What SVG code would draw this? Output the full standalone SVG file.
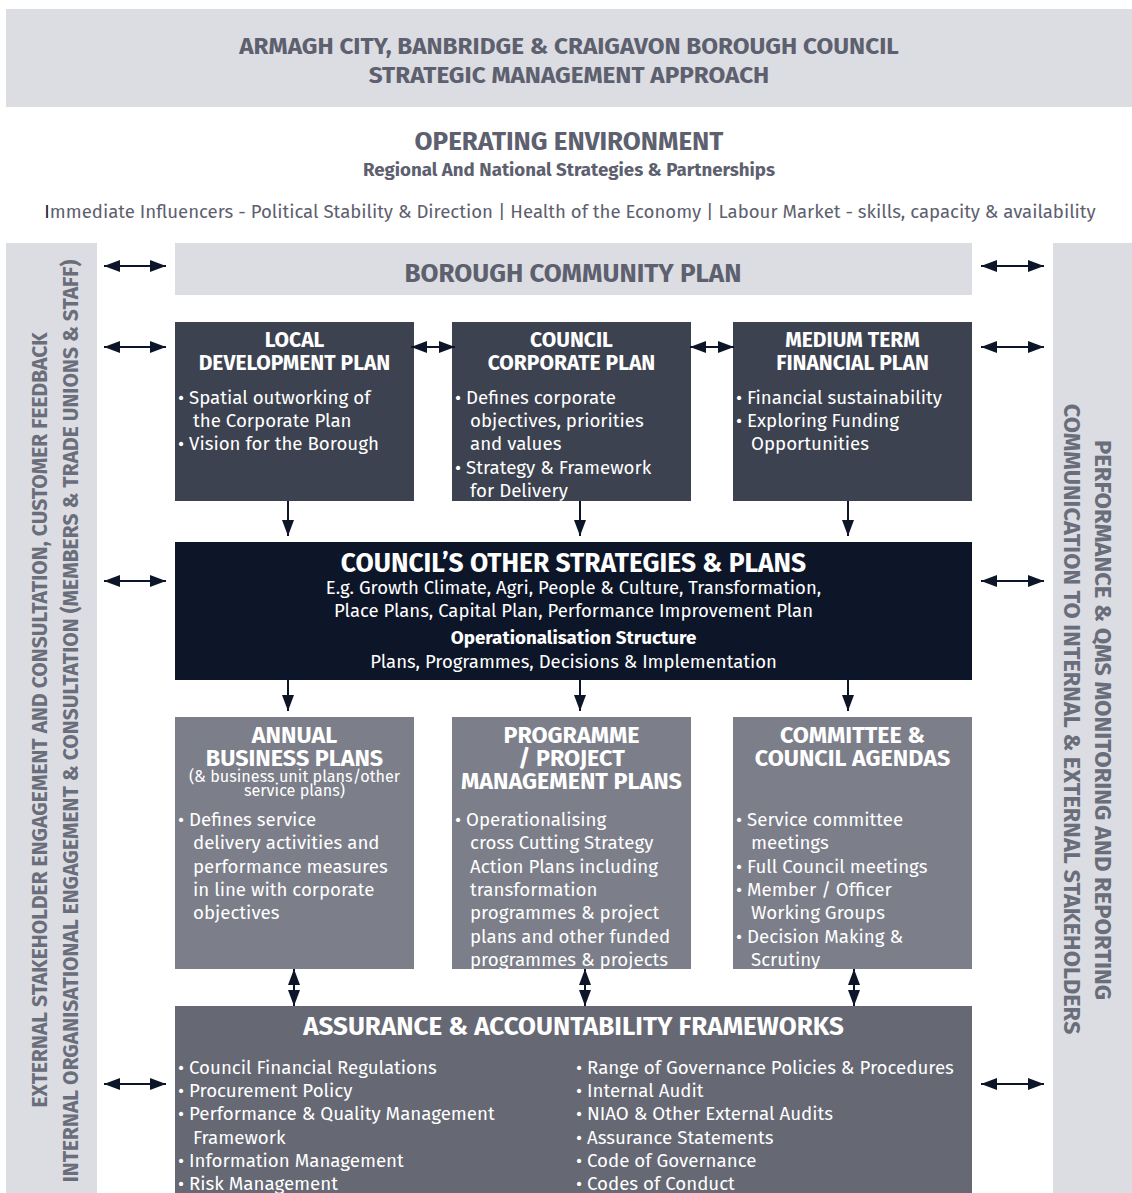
<svg xmlns="http://www.w3.org/2000/svg" width="1132" height="1193" viewBox="0 0 1132 1193">
  <style>
    text { font-family: "Fira Sans", "Noto Sans", "Open Sans", sans-serif; }
    .band { fill: #dcdde2; }
    .gt { fill: #5d606e; font-weight: bold; }
    .side { fill: #6a6d7a; font-weight: bold; }
    .h { fill: #ffffff; font-weight: bold; font-size: 21px; text-anchor: middle; }
    .h4 { fill: #ffffff; font-weight: bold; font-size: 23.3px; text-anchor: middle; }
    .b { fill: #ffffff; font-size: 18.7px; }
    .c { fill: #ffffff; font-size: 18.5px; text-anchor: middle; }
    .sub { fill: #ffffff; font-size: 16.2px; text-anchor: middle; }
    .dark { fill: #3d4250; }
    .navy { fill: #0d1628; }
    .mid { fill: #7c7e89; }
    .asr { fill: #666874; }
    .conn line { stroke: #0d1628; stroke-width: 2; }
  </style>
  <defs>
    <marker id="ah" viewBox="0 0 16 12" refX="16" refY="6" markerWidth="16" markerHeight="12" markerUnits="userSpaceOnUse" orient="auto-start-reverse">
      <path d="M0,0 L16,6 L0,12 z" fill="#0d1628"/>
    </marker>
    <clipPath id="clipProg"><rect x="452" y="717" width="239" height="252"/></clipPath>
    <clipPath id="clipComm"><rect x="733" y="717" width="239" height="252"/></clipPath>
  </defs>
  <rect width="1132" height="1193" fill="#ffffff"/>

  <!-- heading band -->
  <g id="heading">
    <rect class="band" x="6" y="9" width="1126" height="98"/>
    <text class="gt" x="569" y="54" font-size="24.3" text-anchor="middle">ARMAGH CITY, BANBRIDGE &amp; CRAIGAVON BOROUGH COUNCIL</text>
    <text class="gt" x="569" y="83" font-size="24.3" text-anchor="middle">STRATEGIC MANAGEMENT APPROACH</text>
  </g>

  <g id="environment">
    <text class="gt" x="569" y="150" font-size="26" text-anchor="middle">OPERATING ENVIRONMENT</text>
    <text class="gt" x="569" y="176" font-size="18.7" text-anchor="middle">Regional And National Strategies &amp; Partnerships</text>
    <text x="570" y="218" font-size="18.6" fill="#5d606e" text-anchor="middle"><tspan fill="#1e2433">I</tspan>mmediate Influencers - Political Stability &amp; Direction | Health of the Economy | Labour Market - skills, capacity &amp; availability</text>
  </g>

  <!-- side panels -->
  <g id="left-panel">
    <rect class="band" x="6" y="243" width="91" height="950"/>
    <text class="side" font-size="21" transform="translate(47,720) rotate(-90)" text-anchor="middle">EXTERNAL STAKEHOLDER ENGAGEMENT AND CONSULTATION, CUSTOMER FEEDBACK</text>
    <text class="side" font-size="21" transform="translate(78,721) rotate(-90)" text-anchor="middle">INTERNAL ORGANISATIONAL ENGAGEMENT &amp; CONSULTATION (MEMBERS &amp; TRADE UNIONS &amp; STAFF)</text>
  </g>
  <g id="right-panel">
    <rect class="band" x="1053" y="243" width="79" height="950"/>
    <text class="side" font-size="23.8" transform="translate(1095,720) rotate(90)" text-anchor="middle">PERFORMANCE &amp; QMS MONITORING AND REPORTING</text>
    <text class="side" font-size="23.5" transform="translate(1064,719) rotate(90)" text-anchor="middle">COMMUNICATION TO INTERNAL &amp; EXTERNAL STAKEHOLDERS</text>
  </g>

  <g id="community-plan">
    <rect class="band" x="175" y="243" width="797" height="52"/>
    <text class="gt" x="573" y="282" font-size="26" text-anchor="middle">BOROUGH COMMUNITY PLAN</text>
  </g>

  <g id="local-development-plan">
    <rect class="dark" x="175" y="322" width="239" height="179"/>
    <text class="h" x="294.5" y="347">LOCAL</text>
    <text class="h" x="294.5" y="370">DEVELOPMENT PLAN</text>
    <text class="b" x="178" y="404">• Spatial outworking of</text>
    <text class="b" x="193" y="427">the Corporate Plan</text>
    <text class="b" x="178" y="450">• Vision for the Borough</text>
  </g>

  <g id="corporate-plan">
    <rect class="dark" x="452" y="322" width="239" height="179"/>
    <text class="h" x="571.5" y="347">COUNCIL</text>
    <text class="h" x="571.5" y="370">CORPORATE PLAN</text>
    <text class="b" x="455" y="404">• Defines corporate</text>
    <text class="b" x="470" y="427">objectives, priorities</text>
    <text class="b" x="470" y="450">and values</text>
    <text class="b" x="455" y="474">• Strategy &amp; Framework</text>
    <text class="b" x="470" y="497">for Delivery</text>
  </g>

  <g id="financial-plan">
    <rect class="dark" x="733" y="322" width="239" height="179"/>
    <text class="h" x="852.5" y="347">MEDIUM TERM</text>
    <text class="h" x="852.5" y="370">FINANCIAL PLAN</text>
    <text class="b" x="736" y="404">• Financial sustainability</text>
    <text class="b" x="736" y="427">• Exploring Funding</text>
    <text class="b" x="751" y="450">Opportunities</text>
  </g>

  <g id="other-strategies">
    <rect class="navy" x="175" y="542" width="797" height="138"/>
    <text x="573.5" y="572" fill="#ffffff" font-weight="bold" font-size="26.4" text-anchor="middle">COUNCIL’S OTHER STRATEGIES &amp; PLANS</text>
    <text class="c" x="573.5" y="594">E.g. Growth Climate, Agri, People &amp; Culture, Transformation,</text>
    <text class="c" x="573.5" y="617">Place Plans, Capital Plan, Performance Improvement Plan</text>
    <text x="573.5" y="644" fill="#ffffff" font-weight="bold" font-size="18.8" text-anchor="middle">Operationalisation Structure</text>
    <text class="c" x="573.5" y="668">Plans, Programmes, Decisions &amp; Implementation</text>
  </g>

  <g id="business-plans">
    <rect class="mid" x="175" y="717" width="239" height="252"/>
    <text class="h4" x="294.5" y="743">ANNUAL</text>
    <text class="h4" x="294.5" y="766">BUSINESS PLANS</text>
    <text class="sub" x="294.5" y="782">(&amp; business unit plans/other</text>
    <text class="sub" x="294.5" y="796">service plans)</text>
    <text class="b" x="178" y="826">• Defines service</text>
    <text class="b" x="193" y="849">delivery activities and</text>
    <text class="b" x="193" y="873">performance measures</text>
    <text class="b" x="193" y="896">in line with corporate</text>
    <text class="b" x="193" y="919">objectives</text>
  </g>

  <g id="programme-plans">
    <rect class="mid" x="452" y="717" width="239" height="252"/>
    <g clip-path="url(#clipProg)">
      <text class="h4" x="571.5" y="743">PROGRAMME</text>
      <text class="h4" x="571.5" y="766">/ PROJECT</text>
      <text class="h4" x="571.5" y="789">MANAGEMENT PLANS</text>
      <text class="b" x="455" y="826">• Operationalising</text>
      <text class="b" x="470" y="849">cross Cutting Strategy</text>
      <text class="b" x="470" y="873">Action Plans including</text>
      <text class="b" x="470" y="896">transformation</text>
      <text class="b" x="470" y="919">programmes &amp; project</text>
      <text class="b" x="470" y="943">plans and other funded</text>
      <text class="b" x="470" y="966">programmes &amp; projects</text>
    </g>
  </g>

  <g id="committee-agendas">
    <rect class="mid" x="733" y="717" width="239" height="252"/>
    <g clip-path="url(#clipComm)">
      <text class="h4" x="852.5" y="743">COMMITTEE &amp;</text>
      <text class="h4" x="852.5" y="766">COUNCIL AGENDAS</text>
      <text class="b" x="736" y="826">• Service committee</text>
      <text class="b" x="751" y="849">meetings</text>
      <text class="b" x="736" y="873">• Full Council meetings</text>
      <text class="b" x="736" y="896">• Member / Officer</text>
      <text class="b" x="751" y="919">Working Groups</text>
      <text class="b" x="736" y="943">• Decision Making &amp;</text>
      <text class="b" x="751" y="966">Scrutiny</text>
    </g>
  </g>

  <g id="assurance">
    <rect class="asr" x="175" y="1006" width="797" height="187"/>
    <text x="573.5" y="1035" fill="#ffffff" font-weight="bold" font-size="26" text-anchor="middle">ASSURANCE &amp; ACCOUNTABILITY FRAMEWORKS</text>
    <text class="b" x="178" y="1074">• Council Financial Regulations</text>
    <text class="b" x="178" y="1097">• Procurement Policy</text>
    <text class="b" x="178" y="1120">• Performance &amp; Quality Management</text>
    <text class="b" x="193" y="1144">Framework</text>
    <text class="b" x="178" y="1167">• Information Management</text>
    <text class="b" x="178" y="1190">• Risk Management</text>
    <text class="b" x="576" y="1074">• Range of Governance Policies &amp; Procedures</text>
    <text class="b" x="576" y="1097">• Internal Audit</text>
    <text class="b" x="576" y="1120">• NIAO &amp; Other External Audits</text>
    <text class="b" x="576" y="1144">• Assurance Statements</text>
    <text class="b" x="576" y="1167">• Code of Governance</text>
    <text class="b" x="576" y="1190">• Codes of Conduct</text>
  </g>

  <!-- connectors -->
  <g id="connectors" class="conn">
    <!-- side links, left -->
    <line x1="104" y1="266" x2="166" y2="266" marker-start="url(#ah)" marker-end="url(#ah)"/>
    <line x1="104" y1="347" x2="166" y2="347" marker-start="url(#ah)" marker-end="url(#ah)"/>
    <line x1="104" y1="581" x2="166" y2="581" marker-start="url(#ah)" marker-end="url(#ah)"/>
    <line x1="104" y1="1084" x2="166" y2="1084" marker-start="url(#ah)" marker-end="url(#ah)"/>
    <!-- side links, right -->
    <line x1="981" y1="266" x2="1044" y2="266" marker-start="url(#ah)" marker-end="url(#ah)"/>
    <line x1="981" y1="347" x2="1044" y2="347" marker-start="url(#ah)" marker-end="url(#ah)"/>
    <line x1="981" y1="581" x2="1044" y2="581" marker-start="url(#ah)" marker-end="url(#ah)"/>
    <line x1="981" y1="1084" x2="1044" y2="1084" marker-start="url(#ah)" marker-end="url(#ah)"/>
    <!-- links between plan boxes -->
    <line x1="411" y1="347" x2="455" y2="347" marker-start="url(#ah)" marker-end="url(#ah)"/>
    <line x1="690" y1="347" x2="734" y2="347" marker-start="url(#ah)" marker-end="url(#ah)"/>
    <!-- plans to other strategies -->
    <line x1="288" y1="501" x2="288" y2="536" marker-end="url(#ah)"/>
    <line x1="580" y1="501" x2="580" y2="536" marker-end="url(#ah)"/>
    <line x1="848" y1="501" x2="848" y2="536" marker-end="url(#ah)"/>
    <!-- other strategies to delivery plans -->
    <line x1="288" y1="680" x2="288" y2="711" marker-end="url(#ah)"/>
    <line x1="580" y1="680" x2="580" y2="711" marker-end="url(#ah)"/>
    <line x1="848" y1="680" x2="848" y2="711" marker-end="url(#ah)"/>
    <!-- delivery plans to assurance -->
    <line x1="294" y1="969" x2="294" y2="1006" marker-start="url(#ah)" marker-end="url(#ah)"/>
    <line x1="585" y1="969" x2="585" y2="1006" marker-start="url(#ah)" marker-end="url(#ah)"/>
    <line x1="854" y1="969" x2="854" y2="1006" marker-start="url(#ah)" marker-end="url(#ah)"/>
  </g>
</svg>
